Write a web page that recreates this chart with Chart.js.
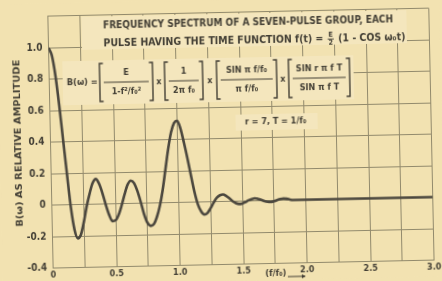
<!DOCTYPE html>
<html>
<head>
<meta charset="utf-8">
<title>Frequency spectrum of a seven-pulse group</title>
<script src="https://cdn.jsdelivr.net/npm/chart.js@4.4.1/dist/chart.umd.min.js"></script>
<style>
  html, body { margin: 0; padding: 0; background: #f2e2b1; overflow: hidden; }
  /* the printed sheet sits slightly crooked in the scan */
  #sheet { width: 442px; height: 281px; transform: rotate(-1.2deg); transform-origin: 50% 50%; }
</style>
</head>
<body>
<div id="sheet"><canvas id="spectrumChart" width="442" height="281"></canvas></div>
<script>
// Values (f/f0 against relative amplitude)
const freqRatio = [
    0, 0.025, 0.05, 0.075, 0.1, 0.125, 0.15, 0.175, 0.2, 0.225,
    0.25, 0.275, 0.3, 0.325, 0.35, 0.375, 0.4, 0.425, 0.45, 0.475,
    0.5, 0.525, 0.55, 0.575, 0.6, 0.625, 0.65, 0.675, 0.7, 0.725,
    0.75, 0.775, 0.8, 0.825, 0.85, 0.875, 0.9, 0.925, 0.95, 0.975,
    1.0, 1.025, 1.05, 1.075, 1.1, 1.125, 1.15, 1.175, 1.2, 1.225,
    1.25, 1.275, 1.3, 1.325, 1.35, 1.375, 1.4, 1.425, 1.45, 1.475,
    1.5, 1.525, 1.55, 1.575, 1.6, 1.625, 1.65, 1.675, 1.7, 1.725,
    1.75, 1.775, 1.8, 1.825, 1.85, 1.875, 1.9, 1.95, 2.0, 2.25,
    2.5, 2.75, 3.0
];
const amplitude = [
    1.0, 0.95, 0.82, 0.63, 0.41, 0.19, -0.02, -0.16, -0.215, -0.19,
    -0.11, -0.01, 0.07, 0.135, 0.16, 0.13, 0.07, -0.005, -0.07, -0.11,
    -0.105, -0.07, -0.01, 0.06, 0.12, 0.145, 0.13, 0.08, 0.01, -0.07,
    -0.125, -0.145, -0.135, -0.09, -0.02, 0.08, 0.21, 0.34, 0.445, 0.505,
    0.52, 0.47, 0.38, 0.28, 0.17, 0.065, -0.015, -0.06, -0.08, -0.07,
    -0.04, -0.005, 0.025, 0.04, 0.045, 0.035, 0.02, 0.0, -0.012, -0.018,
    -0.015, -0.006, 0.004, 0.012, 0.016, 0.012, 0.005, -0.003, -0.008, -0.009,
    -0.005, 0.002, 0.008, 0.011, 0.009, 0.004, 0.0, 0.0, 0.0, 0.0,
    0.0, 0.0, 0.0
];

const xTickValues = [0, 0.25, 0.5, 0.75, 1.0, 1.25, 1.5, 1.75, 2.0, 2.25, 2.5, 2.75, 3.0];
const xTickLabels = ['0', '', '0.5', '', '1.0', '', '1.5', '', '2.0', '', '2.5', '', '3.0'];
const yTickValues = [-0.4, -0.2, 0, 0.2, 0.4, 0.6, 0.8, 1.0, 1.2];
const yTickLabels = ['-0.4', '-0.2', '0', '0.2', '0.4', '0.6', '0.8', '1.0', ''];

const titleLines = [
    'FREQUENCY SPECTRUM OF A SEVEN-PULSE GROUP, EACH',
    'PULSE HAVING THE TIME FUNCTION f(t) = '
];
const yTitle = 'B(\u03C9) AS RELATIVE AMPLITUDE';
const xTitle = '(f/f\u2080)';

const paper = '#f2e2b1';
const clearing = '#f4e6bd';
const ink = '#433f35';
const gridColor = '#928a6c';
const face = '"DejaVu Sans Condensed", "DejaVu Sans", sans-serif';

function font(px) {
    return 'bold ' + px + 'px ' + face;
}

// draw a string squeezed/stretched to a given width, centred on (cx, cy)
function fitText(ctx, s, cx, cy, width, px) {
    ctx.save();
    ctx.font = font(px);
    const w = ctx.measureText(s).width;
    ctx.translate(cx, cy);
    ctx.scale(width / w, 1);
    ctx.textAlign = 'center';
    ctx.textBaseline = 'middle';
    ctx.fillText(s, 0, 0);
    ctx.restore();
}

function bracket(ctx, x, dir, top, bottom) {
    ctx.beginPath();
    ctx.moveTo(x + 3.5 * dir, top);
    ctx.lineTo(x, top);
    ctx.lineTo(x, bottom);
    ctx.lineTo(x + 3.5 * dir, bottom);
    ctx.stroke();
}

const annotations = {
    id: 'annotations',
    beforeDraw(chart) {
        const ctx = chart.ctx;
        ctx.save();
        ctx.fillStyle = paper;
        ctx.fillRect(0, 0, chart.width, chart.height);
        ctx.restore();
    },
    afterDatasetsDraw(chart) {
        const ctx = chart.ctx;
        ctx.save();

        // lettering was done on blank patches of the grid
        ctx.fillStyle = clearing;
        ctx.fillRect(84, 14, 325, 33);
        ctx.fillRect(64, 58, 291, 44);
        ctx.fillRect(236, 115, 82, 16);

        ctx.fillStyle = ink;
        ctx.strokeStyle = ink;
        ctx.textBaseline = 'middle';

        // title, line 1
        fitText(ctx, titleLines[0], 250.5, 23, 290, 10);

        // title, line 2 with the E/2 fraction
        ctx.save();
        ctx.font = font(10);
        const head = titleLines[1];
        const tail = ' (1 - COS \u03C9\u2080t)';
        const wHead = ctx.measureText(head).width;
        const wTail = ctx.measureText(tail).width;
        const wFrac = 8;
        const k = 302 / (wHead + wFrac + wTail);
        ctx.translate(105.5, 41);
        ctx.scale(k, 1);
        ctx.textAlign = 'left';
        ctx.fillText(head, 0, 0);
        ctx.font = font(7);
        ctx.textAlign = 'center';
        ctx.fillText('E', wHead + wFrac / 2, -4);
        ctx.fillText('2', wHead + wFrac / 2, 4.5);
        ctx.lineWidth = 0.9;
        ctx.beginPath();
        ctx.moveTo(wHead + 1, 0.3);
        ctx.lineTo(wHead + wFrac - 1, 0.3);
        ctx.stroke();
        ctx.font = font(10);
        ctx.textAlign = 'left';
        ctx.fillText(tail, wHead + wFrac, 0);
        ctx.restore();

        // the formula for B(w)
        ctx.font = font(9.5);
        ctx.textAlign = 'right';
        ctx.fillText('B(\u03C9) =', 99, 79.5, 31);
        const blocks = [
            { l: 101, r: 154, num: 'E', den: '1-f\u00B2/f\u2080\u00B2' },
            { l: 166, r: 204, num: '1', den: '2\u03C0 f\u2080' },
            { l: 218, r: 278, num: 'SIN \u03C0 f/f\u2080', den: '\u03C0 f/f\u2080' },
            { l: 290, r: 351, num: 'SIN r \u03C0 f T', den: 'SIN \u03C0 f T' }
        ];
        ctx.lineWidth = 1.4;
        blocks.forEach((b, i) => {
            bracket(ctx, b.l, 1, 61, 99);
            bracket(ctx, b.r, -1, 61, 99);
            const cx = (b.l + b.r) / 2;
            const inner = b.r - b.l - 8;
            ctx.textAlign = 'center';
            ctx.font = font(9);
            ctx.fillText(b.num, cx, 71, inner);
            ctx.fillText(b.den, cx, 89.5, inner);
            ctx.lineWidth = 1;
            ctx.beginPath();
            ctx.moveTo(b.l + 4, 80);
            ctx.lineTo(b.r - 4, 80);
            ctx.stroke();
            ctx.lineWidth = 1.4;
            if (i < blocks.length - 1) {
                ctx.font = font(9);
                ctx.fillText('x', (b.r + blocks[i + 1].l) / 2, 81);
            }
        });

        // constants
        ctx.font = font(9);
        ctx.textAlign = 'center';
        ctx.fillText('r = 7, T = 1/f\u2080', 276, 123, 72);

        ctx.restore();
    },
    afterDraw(chart) {
        const ctx = chart.ctx;
        ctx.save();
        ctx.fillStyle = ink;
        ctx.strokeStyle = ink;

        // y axis title
        ctx.save();
        ctx.translate(19, 139);
        ctx.rotate(-Math.PI / 2);
        fitText(ctx, yTitle, 0, 0, 167, 9.5);
        ctx.restore();

        // x axis title with arrow
        ctx.font = font(9);
        ctx.textAlign = 'center';
        ctx.textBaseline = 'middle';
        ctx.fillText(xTitle, 273, 274.5);
        ctx.lineWidth = 1;
        ctx.beginPath();
        ctx.moveTo(285, 278);
        ctx.lineTo(302, 278);
        ctx.stroke();
        ctx.beginPath();
        ctx.moveTo(303, 278);
        ctx.lineTo(299, 276);
        ctx.lineTo(299, 280);
        ctx.closePath();
        ctx.fill();

        ctx.restore();
    }
};

document.addEventListener('DOMContentLoaded', function() {
    const ctx = document.getElementById('spectrumChart').getContext('2d');
    new Chart(ctx, {
        type: 'line',
        data: {
            datasets: [{
                label: 'B(\u03C9)',
                data: freqRatio.map((f, i) => ({ x: f, y: amplitude[i] })),
                borderColor: '#4b473e',
                borderWidth: 2.6,
                pointRadius: 0,
                fill: false,
                cubicInterpolationMode: 'monotone'
            }]
        },
        options: {
            responsive: false,
            animation: false,
            devicePixelRatio: 1,
            layout: {
                padding: { top: 12.7, right: 10.5, left: 0, bottom: 0 }
            },
            plugins: {
                legend: { display: false },
                tooltip: { enabled: false }
            },
            scales: {
                x: {
                    type: 'linear',
                    min: 0,
                    max: 3,
                    afterBuildTicks: (scale) => {
                        scale.ticks = xTickValues.map(v => ({ value: v }));
                    },
                    afterFit: (scale) => {
                        scale.height = 16.5;
                        scale.paddingLeft = 0;
                        scale.paddingRight = 0;
                    },
                    ticks: {
                        callback: (value, index) => xTickLabels[index],
                        autoSkip: false,
                        maxRotation: 0,
                        padding: 2,
                        labelOffset: 0,
                        color: ink,
                        font: { family: face, size: 9, weight: 'bold' }
                    },
                    grid: { color: gridColor, lineWidth: 1, drawTicks: false },
                    border: { color: gridColor, width: 1 }
                },
                y: {
                    min: -0.4,
                    max: 1.2,
                    afterBuildTicks: (scale) => {
                        scale.ticks = yTickValues.map(v => ({ value: v }));
                    },
                    afterFit: (scale) => {
                        scale.width = 50.5;
                        scale.paddingTop = 0;
                        scale.paddingBottom = 0;
                    },
                    ticks: {
                        callback: (value, index) => yTickLabels[index],
                        autoSkip: false,
                        padding: 6,
                        color: ink,
                        font: { family: face, size: 10, weight: 'bold' }
                    },
                    grid: { color: gridColor, lineWidth: 1, drawTicks: false },
                    border: { color: gridColor, width: 1 }
                }
            }
        },
        plugins: [annotations]
    });
});
</script>
</body>
</html>
